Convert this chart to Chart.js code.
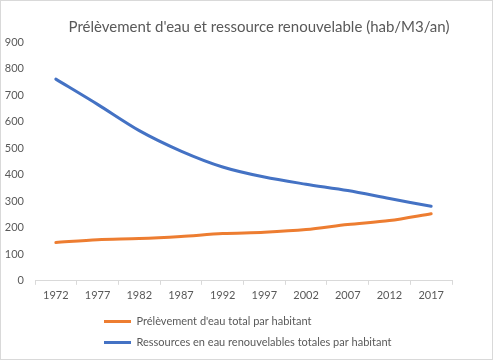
<!DOCTYPE html>
<html>
<head>
<meta charset="utf-8">
<script src="https://cdn.jsdelivr.net/npm/chart.js@4"></script>
<style>
html,body{margin:0;padding:0;background:#fff;}
#wrap{width:494px;height:360px;position:relative;}
</style>
</head>
<body>
<div id="wrap"><canvas id="c" width="494" height="360"></canvas></div>
<script>
const years = ['1972','1977','1982','1987','1992','1997','2002','2007','2012','2017'];
const prelevement = [144, 155, 159, 167, 178, 183, 193, 212, 227, 253];
const ressources = [760, 665, 566, 489, 429, 391, 364, 340, 310, 281];
const seriesNames = ['Prélèvement d\'eau total par habitant', 'Ressources en eau renouvelables totales par habitant'];
const titleText = 'Prélèvement d\'eau et ressource renouvelable (hab/M3/an)';

const FONT = 'Lato, "Open Sans", sans-serif';
const grey = '#595959';

const frame = {
  id: 'frame',
  beforeDraw(chart) {
    const ctx = chart.ctx;
    ctx.save();
    ctx.fillStyle = '#fff';
    ctx.fillRect(0, 0, chart.width, chart.height);
    ctx.strokeStyle = '#d9d9d9';
    ctx.lineWidth = 1;
    ctx.strokeRect(0.5, 0.5, 492, 359);
    ctx.restore();
  }
};
const shift = {
  id: 'shift',
  afterLayout(chart) {
    const lg = chart.legend;
    if (lg) { lg.left += 94; lg.right += 94; }
    const t = chart.titleBlock;
    if (t) { t.left += 33; t.right += 33; }
  }
};

new Chart(document.getElementById('c'), {
  type: 'line',
  data: {
    labels: years,
    datasets: [
      { label: seriesNames[0], data: prelevement, borderColor: '#ed7d31', backgroundColor: '#ed7d31', borderWidth: 3, pointRadius: 0, tension: 0.3, borderCapStyle: 'round' },
      { label: seriesNames[1], data: ressources, borderColor: '#4472c4', backgroundColor: '#4472c4', borderWidth: 3, pointRadius: 0, tension: 0.3, borderCapStyle: 'round' }
    ]
  },
  options: {
    responsive: false,
    animation: false,
    devicePixelRatio: 1,
    layout: { padding: { left: 0, right: 42, top: 13, bottom: 2 } },
    plugins: {
      title: { display: true, text: titleText, color: grey, font: { family: FONT, size: 15, weight: 'normal' }, padding: { top: 5, bottom: 6 } },
      legend: {
        position: 'bottom', align: 'start', maxWidth: 300,
        labels: { color: grey, font: { family: FONT, size: 11 }, usePointStyle: true, pointStyle: 'line', pointStyleWidth: 27, boxHeight: 3, padding: 10 }
      },
      tooltip: { enabled: false }
    },
    scales: {
      x: {
        offset: true,
        grid: { offset: true, drawOnChartArea: false, color: '#d9d9d9', tickLength: 4 },
        border: { color: '#d9d9d9' },
        ticks: { color: grey, font: { family: FONT, size: 11 }, maxRotation: 0, padding: 4 }
      },
      y: {
        min: 0, max: 900,
        grid: { display: false, drawTicks: false },
        border: { display: false },
        ticks: { stepSize: 100, color: grey, font: { family: FONT, size: 11 }, padding: 11 },
        afterFit(scale) { scale.width = 35; }
      }
    }
  },
  plugins: [frame, shift]
});
</script>
</body>
</html>
